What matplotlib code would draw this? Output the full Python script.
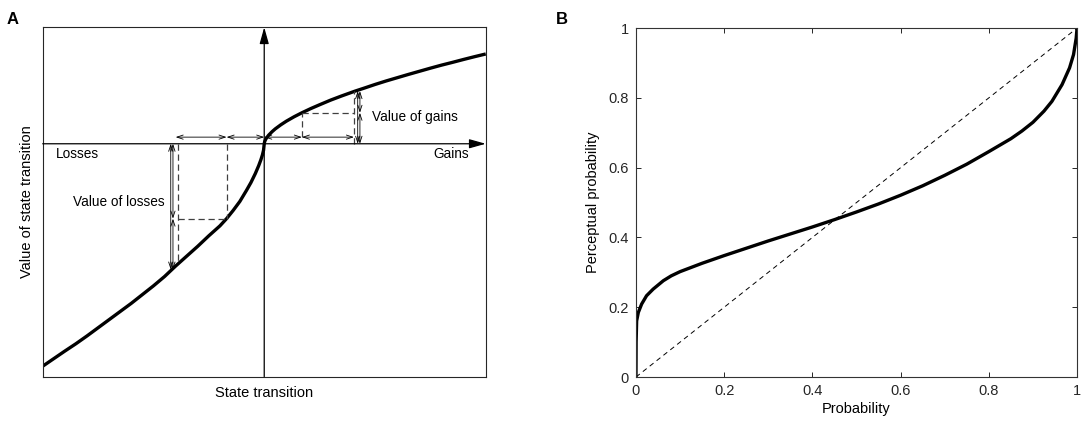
import matplotlib
matplotlib.use("Agg")
import matplotlib.pyplot as plt

plt.rcParams['font.family'] = ['Liberation Sans', 'DejaVu Sans']

# Panel A: value function (x in [-1, 1], y in [-2, 1])
loss_x = [-1.0, -0.95, -0.9, -0.85, -0.8, -0.75, -0.7, -0.65, -0.6, -0.55, -0.5,
          -0.45, -0.4, -0.35, -0.3, -0.25, -0.2, -0.17, -0.14, -0.11, -0.08,
          -0.06, -0.04, -0.025, -0.015, -0.008, -0.003, 0.0]
loss_y = [-1.91, -1.845, -1.78, -1.717, -1.65, -1.58, -1.51, -1.44, -1.37, -1.295, -1.22,
          -1.14, -1.05, -0.965, -0.88, -0.79, -0.705, -0.643, -0.572, -0.495, -0.40,
          -0.333, -0.255, -0.188, -0.137, -0.095, -0.055, 0.0]
gain_x = [0.0, 0.002, 0.005, 0.01, 0.02, 0.035, 0.05, 0.075, 0.1, 0.135, 0.17, 0.21,
          0.25, 0.3, 0.35, 0.41, 0.45, 0.5, 0.55, 0.6, 0.65, 0.7, 0.75, 0.8, 0.85,
          0.9, 0.95, 1.0]
gain_y = [0.0, 0.0185, 0.032, 0.049, 0.074, 0.103, 0.128, 0.163, 0.194, 0.232, 0.266, 0.302,
          0.335, 0.375, 0.411, 0.452, 0.477, 0.509, 0.539, 0.567, 0.595, 0.622, 0.649, 0.675,
          0.699, 0.724, 0.748, 0.771]

# marked states on each side: (x, value on curve)
loss_marks_x = [-0.17, -0.40]
loss_marks_y = [-0.643, -1.05]
gain_marks_x = [0.17, 0.41]
gain_marks_y = [0.266, 0.452]

# Panel B: probability weighting
prob = [0.0, 0.0003, 0.0015, 0.0053, 0.0128, 0.024, 0.039, 0.062, 0.08, 0.1, 0.15,
        0.2, 0.25, 0.3, 0.35, 0.4, 0.45, 0.5, 0.55, 0.6, 0.65, 0.7, 0.75, 0.8,
        0.85, 0.875, 0.9, 0.925, 0.943, 0.966, 0.983, 0.992, 0.998, 1.0]
perceived = [0.0, 0.10, 0.161, 0.185, 0.209, 0.233, 0.252, 0.276, 0.290, 0.302, 0.326,
             0.348, 0.369, 0.390, 0.410, 0.430, 0.451, 0.473, 0.496, 0.521, 0.548, 0.578,
             0.610, 0.646, 0.683, 0.705, 0.730, 0.762, 0.790, 0.838, 0.886, 0.924, 0.971, 1.0]
diag = [0.0, 1.0]
b_ticks = [0, 0.2, 0.4, 0.6, 0.8, 1]
b_ticklabels = ['0', '0.2', '0.4', '0.6', '0.8', '1']

fig = plt.figure(figsize=(10.84, 4.24), dpi=100)
axA = fig.add_axes([0.0394, 0.1116, 0.4087, 0.824])
axB = fig.add_axes([0.5867, 0.1108, 0.4069, 0.823])

# ---- panel A ----
axA.set_xlim(-1, 1)
axA.set_ylim(-2, 1)
axA.set_xticks([])
axA.set_yticks([])
for s in axA.spines.values():
    s.set_linewidth(0.8)
    s.set_color('0.15')

axis_kw = dict(arrowstyle='-|>,head_width=0.28,head_length=1.0', lw=0.9,
               color='black', shrinkA=0, shrinkB=0)
axA.annotate('', xy=(0, 1.0), xytext=(0, -2), arrowprops=axis_kw)
axA.annotate('', xy=(1.0, 0), xytext=(-1, 0), arrowprops=axis_kw)

axA.plot(loss_x, loss_y, color='black', lw=2.4, solid_capstyle='butt')
axA.plot(gain_x, gain_y, color='black', lw=2.4, solid_capstyle='butt')

small = dict(arrowstyle='<->,head_width=0.15,head_length=0.45', lw=0.6,
             color='black', shrinkA=0, shrinkB=0)
dash_kw = dict(color='0.25', lw=0.9, ls=(0, (5, 3)))
off = 0.057

# losses
lx1, lx2 = loss_marks_x
ly1, ly2 = loss_marks_y
axA.plot([lx1, lx1], [0, ly1], **dash_kw)
axA.plot([lx2 + 0.012, lx1], [ly1, ly1], **dash_kw)
axA.plot([lx2 + 0.012, lx2 + 0.012], [0, ly2 + 0.02], **dash_kw)
axA.annotate('', xy=(lx2, off), xytext=(lx1, off), arrowprops=small)
axA.annotate('', xy=(lx1, off), xytext=(0, off), arrowprops=small)
axA.annotate('', xy=(lx2 - 0.022, 0), xytext=(lx2 - 0.022, ly2 - 0.03), arrowprops=small)
axA.annotate('', xy=(lx2 - 0.012, 0), xytext=(lx2 - 0.012, ly1), arrowprops=small)
axA.annotate('', xy=(lx2 - 0.012, ly1), xytext=(lx2 - 0.012, ly2 - 0.03), arrowprops=small)

# gains
gx1, gx2 = gain_marks_x
gy1, gy2 = gain_marks_y
axA.plot([gx1, gx1], [off, gy1], **dash_kw)
axA.plot([gx1, gx2 - 0.005], [gy1, gy1], **dash_kw)
axA.plot([gx2 - 0.005, gx2 - 0.005], [0, gy2], **dash_kw)
axA.annotate('', xy=(0, off), xytext=(gx1, off), arrowprops=small)
axA.annotate('', xy=(gx1, off), xytext=(gx2 - 0.005, off), arrowprops=small)
axA.annotate('', xy=(gx2 + 0.012, 0), xytext=(gx2 + 0.012, gy2), arrowprops=small)
axA.annotate('', xy=(gx2 + 0.022, 0), xytext=(gx2 + 0.022, gy1), arrowprops=small)
axA.annotate('', xy=(gx2 + 0.022, gy1), xytext=(gx2 + 0.022, gy2), arrowprops=small)

fs = 10.5
fs_in = 9.8
axA.text(-0.94, -0.09, 'Losses', fontsize=fs_in, ha='left', va='center')
axA.text(0.925, -0.09, 'Gains', fontsize=fs_in, ha='right', va='center')
axA.text(-0.45, -0.50, 'Value of losses', fontsize=fs_in, ha='right', va='center')
axA.text(0.487, 0.23, 'Value of gains', fontsize=fs_in, ha='left', va='center')
axA.set_xlabel('State transition', fontsize=fs, labelpad=7)
axA.set_ylabel('Value of state transition', fontsize=fs, labelpad=6)

# ---- panel B ----
axB.plot(diag, diag, color='black', lw=0.7, ls=(0, (5, 4)))
axB.plot(prob, perceived, color='black', lw=2.4)
axB.set_xlim(0, 1)
axB.set_ylim(0, 1)
axB.set_xticks(b_ticks)
axB.set_xticklabels(b_ticklabels)
axB.set_yticks(b_ticks)
axB.set_yticklabels(b_ticklabels)
axB.tick_params(direction='in', length=3.5, width=0.7, top=True, right=True,
                labelsize=fs, colors='0.15', pad=5)
for s in axB.spines.values():
    s.set_linewidth(0.8)
    s.set_color('0.2')
axB.set_xlabel('Probability', fontsize=fs, labelpad=3)
axB.set_ylabel('Perceptual probability', fontsize=fs, labelpad=6)

fig.text(0.006, 0.955, 'A', fontsize=12, fontweight='bold', ha='left', va='center')
fig.text(0.513, 0.955, 'B', fontsize=12, fontweight='bold', ha='left', va='center')

fig.savefig('out.png', dpi=100)
